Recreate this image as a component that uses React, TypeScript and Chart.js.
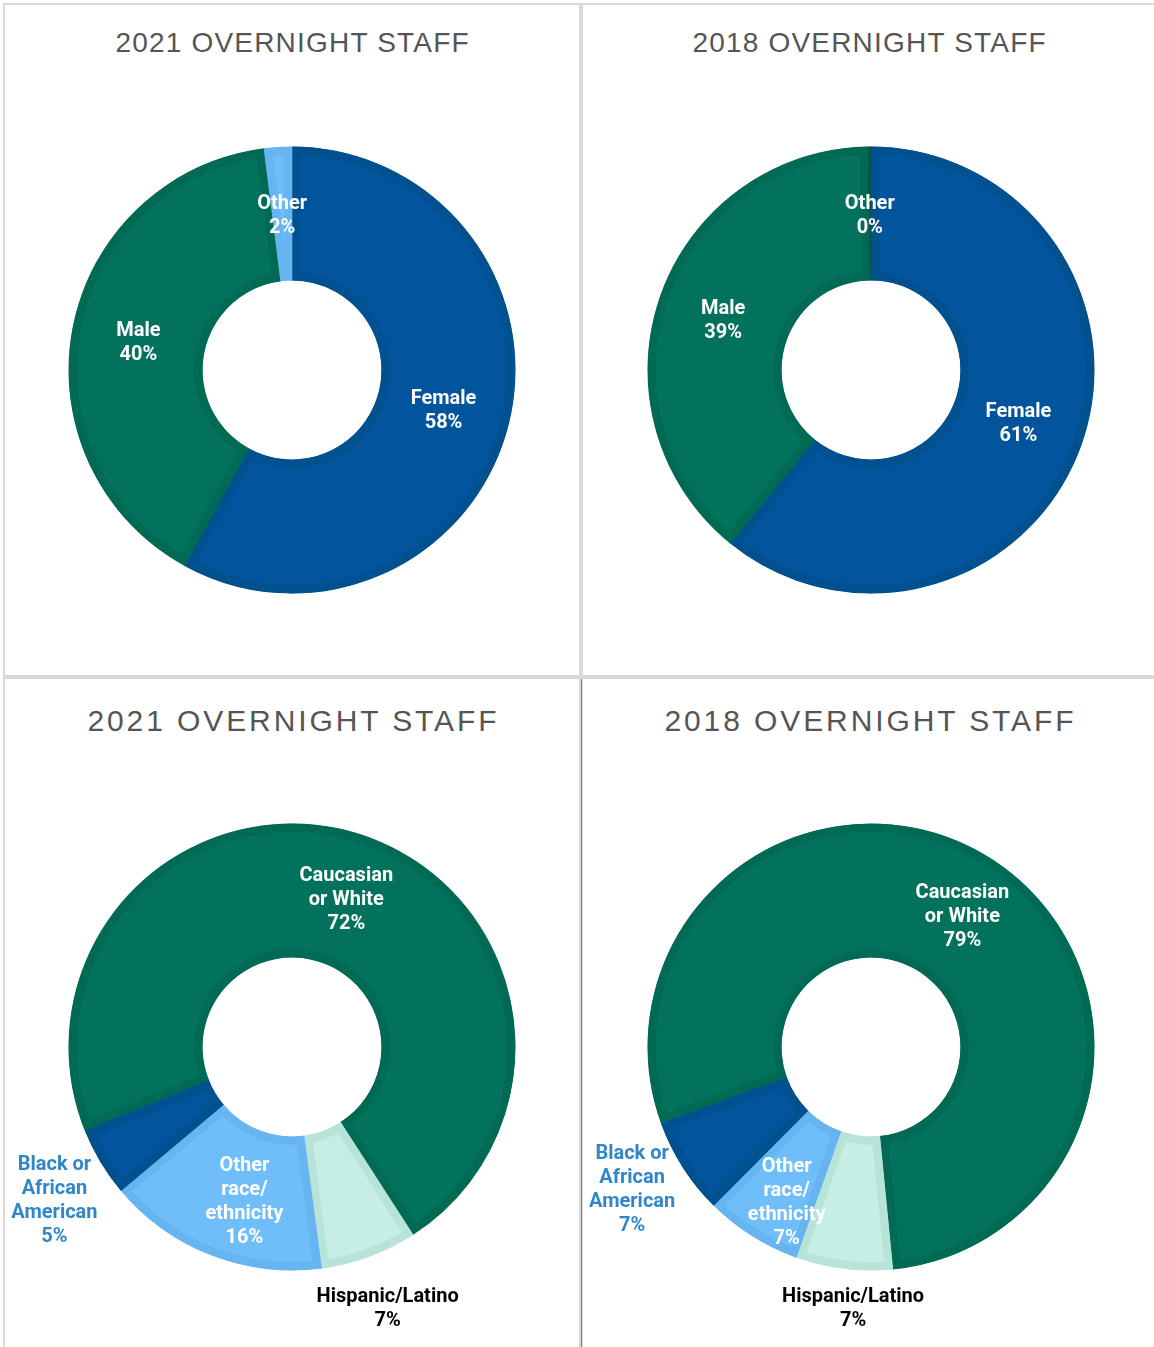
import React, { useEffect, useRef } from "react";
import { Chart, registerables } from "chart.js";

Chart.register(...registerables);

// ---------- data ----------
const titles = ["2021 OVERNIGHT STAFF", "2018 OVERNIGHT STAFF", "2021 OVERNIGHT STAFF", "2018 OVERNIGHT STAFF"];

const genderCategories = ["Female", "Male", "Other"];
const genderLabelLines = [["Female"], ["Male"], ["Other"]];
const gender2021Values = [58, 40, 2];
const gender2018Values = [61, 39, 0.25];

const raceCategories = ["Caucasian or White", "Hispanic/Latino", "Other race/ethnicity", "Black or African American"];
const raceLabelLines = [["Caucasian", "or White"], ["Hispanic/Latino"], ["Other", "race/", "ethnicity"], ["Black or", "African", "American"]];
const race2021Values = [72, 7, 16, 5];
const race2018Values = [79, 7, 7, 7];

// ---------- styles ----------
const DARK_BLUE = "#02559c";
const DARK_BLUE_EDGE = "#01508f";
const TEAL = "#03725c";
const TEAL_EDGE = "#016a54";
const LIGHT_BLUE = "#6fbefa";
const LIGHT_BLUE_EDGE = "#66b5f0";
const MINT = "#c6eee5";
const MINT_EDGE = "#b8e3d9";

const genderColors = [DARK_BLUE, TEAL, LIGHT_BLUE];
const genderEdges = [DARK_BLUE_EDGE, TEAL_EDGE, LIGHT_BLUE_EDGE];
const gender2018Edges = [DARK_BLUE_EDGE, TEAL_EDGE, "#0a5546"];
const raceColors = [TEAL, MINT, LIGHT_BLUE, DARK_BLUE];
const raceEdges = [TEAL_EDGE, MINT_EDGE, LIGHT_BLUE_EDGE, DARK_BLUE_EDGE];

const genderTextColors = ["#ffffff", "#ffffff", "#ffffff"];
const raceTextColors = ["#ffffff", "#000000", "#ffffff", "#2f87c9"];

type Place = { r?: number; dx?: number; dy?: number };

const donutLabelsPlugin = {
  id: "donutLabels",
  afterDatasetsDraw(chart: any, _args: any, opts: any) {
    const meta = chart.getDatasetMeta(0);
    const data = chart.data.datasets[0].data as number[];
    const ctx = chart.ctx as CanvasRenderingContext2D;
    ctx.save();
    ctx.font = "bold 20px Roboto";
    ctx.textAlign = "center";
    ctx.textBaseline = "middle";
    meta.data.forEach((arc: any, i: number) => {
      const p = arc.getProps(["x", "y", "startAngle", "endAngle", "innerRadius", "outerRadius"], true);
      const mid = (p.startAngle + p.endAngle) / 2;
      const place: Place = (opts.placements && opts.placements[i]) || {};
      const r = place.r ?? (p.innerRadius + p.outerRadius) / 2;
      const cx = p.x + Math.cos(mid) * r + (place.dx || 0);
      const cy = p.y + Math.sin(mid) * r + (place.dy || 0) + 2;
      const lines = [...opts.lines[i], Math.round(data[i]) + "%"];
      ctx.fillStyle = opts.colors[i];
      const lh = 24;
      lines.forEach((t: string, k: number) => {
        ctx.fillText(t, cx, cy + (k - (lines.length - 1) / 2) * lh);
      });
    });
    ctx.restore();
  },
};

type DonutProps = {
  left: number;
  top: number;
  size: number;
  categories: string[];
  values: number[];
  colors: string[];
  edges: string[];
  rotation: number;
  lines: string[][];
  textColors: string[];
  placements: Place[];
};

function Donut(props: DonutProps) {
  const ref = useRef<HTMLCanvasElement | null>(null);
  useEffect(() => {
    if (!ref.current) return;
    const chart = new Chart(ref.current, {
      type: "doughnut",
      data: {
        labels: props.categories,
        datasets: [
          {
            data: props.values,
            backgroundColor: props.colors,
            borderColor: props.edges,
            borderWidth: 8,
            borderAlign: "inner",
          } as any,
        ],
      },
      options: {
        responsive: false,
        animation: false,
        devicePixelRatio: 1,
        events: [],
        rotation: props.rotation,
        cutout: "40%",
        radius: 223.5,
        layout: { padding: 0 },
        plugins: {
          legend: { display: false },
          tooltip: { enabled: false },
          title: { display: false },
          donutLabels: { lines: props.lines, colors: props.textColors, placements: props.placements },
        } as any,
      },
      plugins: [donutLabelsPlugin],
    });
    return () => chart.destroy();
  }, []);
  return (
    <canvas
      ref={ref}
      width={props.size}
      height={props.size}
      style={{ position: "absolute", left: props.left, top: props.top, width: props.size, height: props.size }}
    />
  );
}

const BORDER = "#d9d9d9";

export default function App() {
  const size = 580;
  const panels = [
    { left: 3, top: 3, width: 578, height: 674, titleY: 43, fontSize: 28, ls: 1.2 },
    { left: 581, top: 3, width: 576, height: 674, titleY: 43, fontSize: 28, ls: 1.2 },
    { left: 3, top: 677, width: 578, height: 680, titleY: 721, fontSize: 30, ls: 2.9 },
    { left: 581, top: 677, width: 576, height: 680, titleY: 721, fontSize: 30, ls: 2.9 },
  ];
  const centers = [
    { x: 292, y: 370 },
    { x: 871, y: 370 },
    { x: 292, y: 1047 },
    { x: 871, y: 1047 },
  ];
  return (
    <div
      style={{
        position: "absolute",
        left: 0,
        top: 0,
        width: 1154,
        height: 1347,
        overflow: "hidden",
        background: "#ffffff",
      }}
    >
      {panels.map((p, i) => (
        <div
          key={"panel" + i}
          style={{
            position: "absolute",
            left: p.left,
            top: p.top,
            width: p.width,
            height: p.height,
            boxSizing: "border-box",
            border: `2px solid ${BORDER}`,
          }}
        />
      ))}
      <div style={{ position: "absolute", left: 581, top: 679, width: 1, height: 668, background: "#5f9189" }} />
      {panels.map((p, i) => (
        <div
          key={"title" + i}
          style={{
            position: "absolute",
            left: p.left,
            width: p.width,
            top: p.titleY - 20,
            height: 40,
            lineHeight: "40px",
            textAlign: "center",
            fontFamily: "'Liberation Sans', Arial, sans-serif",
            fontSize: p.fontSize,
            letterSpacing: p.ls,
            paddingLeft: p.ls,
            boxSizing: "border-box",
            color: "#555555",
            whiteSpace: "nowrap",
          }}
        >
          {titles[i]}
        </div>
      ))}
      <Donut
        left={centers[0].x - size / 2}
        top={centers[0].y - size / 2}
        size={size}
        categories={genderCategories}
        values={gender2021Values}
        colors={genderColors}
        edges={genderEdges}
        rotation={0}
        lines={genderLabelLines}
        textColors={genderTextColors}
        placements={[{}, {}, {}]}
      />
      <Donut
        left={centers[1].x - size / 2}
        top={centers[1].y - size / 2}
        size={size}
        categories={genderCategories}
        values={gender2018Values}
        colors={genderColors}
        edges={gender2018Edges}
        rotation={0}
        lines={genderLabelLines}
        textColors={genderTextColors}
        placements={[{}, {}, {}]}
      />
      <Donut
        left={centers[2].x - size / 2}
        top={centers[2].y - size / 2}
        size={size}
        categories={raceCategories}
        values={race2021Values}
        colors={raceColors}
        edges={raceEdges}
        rotation={248}
        lines={raceLabelLines}
        textColors={raceTextColors}
        placements={[{ dx: 7 }, { r: 277 }, { dx: 9, dy: 7 }, { r: 283, dx: 5, dy: 6 }]}
      />
      <Donut
        left={centers[3].x - size / 2}
        top={centers[3].y - size / 2}
        size={size}
        categories={raceCategories}
        values={race2018Values}
        colors={raceColors}
        edges={raceEdges}
        rotation={250}
        lines={raceLabelLines}
        textColors={raceTextColors}
        placements={[{ dx: 8 }, { r: 262, dx: 14 }, { r: 175, dx: 9, dy: 6 }, { r: 280, dx: -3, dy: -10 }]}
      />
    </div>
  );
}
